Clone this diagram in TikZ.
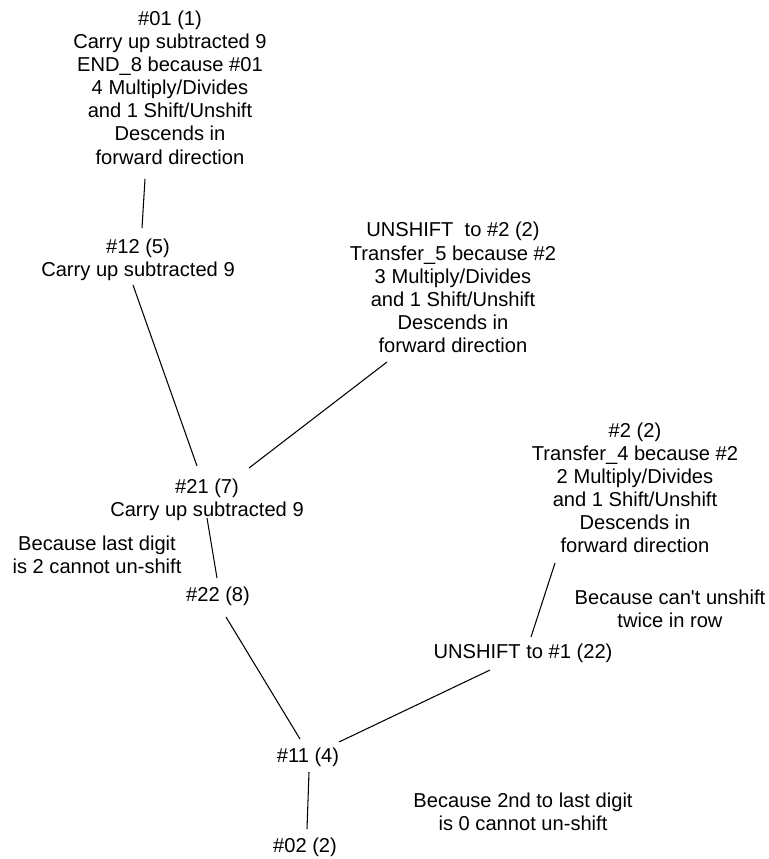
\documentclass[tikz,border=0pt]{standalone}
\usepackage{fontspec}
\setmainfont{Liberation Sans}

\begin{document}
\begin{tikzpicture}[x=0.02cm, y=-0.02cm,
    entry/.style ={align=center, inner sep=0pt, font=\fontsize{11.45}{13.15}\selectfont},
    remark/.style ={entry},
    link/.style ={line width=0.6pt}]
   \useasboundingbox (0,0) rectangle (768,859);

   \node[entry] (n01)  at (170,87.5)  {\#01 (1)\\Carry up subtracted 9\\END\_8 because \#01\\4 Multiply/Divides\\and 1 Shift/Unshift\\Descends in\\forward direction};
   \node[entry] (n12)  at (138,260)   {\#12 (5)\\Carry up subtracted 9};
   \node[entry] (u2)   at (453,287.5) {UNSHIFT\ \ to \#2 (2)\\Transfer\_5 because \#2\\3 Multiply/Divides\\and 1 Shift/Unshift\\Descends in\\forward direction};
   \node[entry] (n21)  at (207,499.5) {\#21 (7)\\Carry up subtracted 9};
   \node[entry] (n22)  at (218,596)   {\#22 (8)};
   \node[entry] (t4)   at (635,488)   {\#2 (2)\\Transfer\_4 because \#2\\2 Multiply/Divides\\and 1 Shift/Unshift\\Descends in\\forward direction};
   \node[entry] (u1)   at (523,653)   {UNSHIFT to \#1 (22)};
   \node[entry] (n11)  at (308,757)   {\#11 (4)};
   \node[entry] (n02)  at (305,847)   {\#02 (2)};

   % reasons
   \node[remark] (r21) at (97,554.5)  {Because last digit\\is 2 cannot un-shift};
   \node[remark] (ru1) at (670,608.5) {Because can{\textquotesingle}t unshift\\twice in row};
   \node[remark] (r11) at (523,811.5) {Because 2nd to last digit\\is 0 cannot un-shift};

   \draw[link] ([shift={(-25,91.5)}]n01.center) to ([shift={(4,-32)}]n12.center);
   \draw[link] ([shift={(-5,25)}]n12.center) to ([shift={(-10,-33.5)}]n21.center);
   \draw[link] ([shift={(-66,74.5)}]u2.center) to ([shift={(42,-31.5)}]n21.center);
   \draw[link] ([shift={(0,18.5)}]n21.center) to ([shift={(-1,-18)}]n22.center);
   \draw[link] ([shift={(8,21)}]n22.center) to ([shift={(-8,-18)}]n11.center);
   \draw[link] ([shift={(-80,75)}]t4.center) to ([shift={(8,-16)}]u1.center);
   \draw[link] ([shift={(-33,17)}]u1.center) to ([shift={(31,-15)}]n11.center);
   \draw[link] ([shift={(1,15)}]n11.center) to ([shift={(2,-18)}]n02.center);
\end{tikzpicture}
\end{document}
